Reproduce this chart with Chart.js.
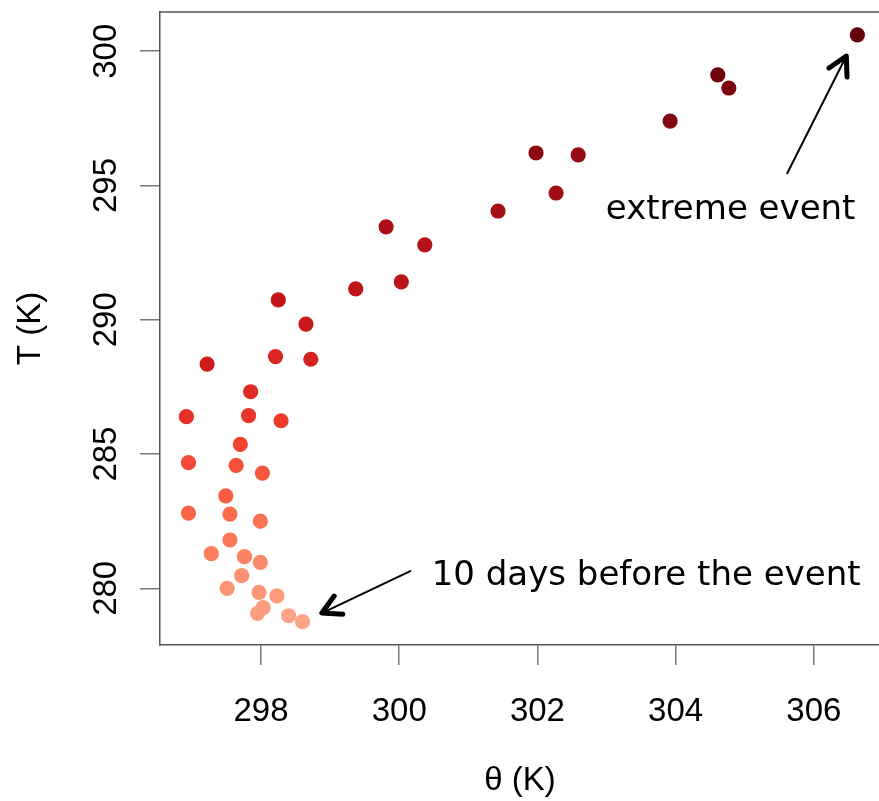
<!DOCTYPE html>
<html>
<head>
<meta charset="utf-8">
<script src="https://cdn.jsdelivr.net/npm/chart.js@4/dist/chart.umd.min.js"></script>
<style>
  html, body { margin: 0; padding: 0; background: #fff; }
  canvas { display: block; }
</style>
</head>
<body>
<canvas id="chart" width="879" height="801"></canvas>
<script>
// potential temperature (K), oldest first
const theta = [
  298.60, 298.40, 297.95, 298.03, 298.23, 297.97, 297.51, 297.72, 297.99, 297.76,
  297.28, 297.55, 297.99, 297.55, 296.95, 297.49, 298.02, 297.64, 296.95, 297.70,
  298.29, 297.82, 296.92, 297.85, 298.21, 298.72, 297.22, 298.65, 298.25, 299.37,
  300.03, 300.37, 299.81, 301.43, 302.27, 302.59, 301.98, 303.92, 304.77, 304.61,
  306.63
];
// temperature (K)
const temp = [
  278.76, 278.98, 279.07, 279.28, 279.72, 279.85, 280.00, 280.47, 280.97, 281.18,
  281.29, 281.80, 282.50, 282.76, 282.80, 283.44, 284.29, 284.58, 284.68, 285.36,
  286.24, 286.43, 286.39, 287.32, 288.63, 288.53, 288.35, 289.84, 290.74, 291.15,
  291.41, 292.79, 293.46, 294.05, 294.72, 296.14, 296.21, 297.40, 298.63, 299.12,
  300.61
];
const xTicks = [298, 300, 302, 304, 306];
const yTicks = [280, 285, 290, 295, 300];
const xTitle = "θ (K)";
const yTitle = "T (K)";
// annotations: [text, text x, text y, arrow tail x, tail y, tip x, tip y] in data units
const noteExtreme = ["extreme event", 302.99, 293.75, 305.61, 295.43, 306.47, 299.82];
const noteStart = ["10 days before the event", 300.47, 280.12, 300.16, 280.64, 298.88, 279.08];

const stops = ["#FCA588", "#FC9272", "#FB6A4A", "#EF3B2C", "#CB181D", "#A50F15", "#67000D"];
const hex = (h) => [1, 3, 5].map((i) => parseInt(h.slice(i, i + 2), 16));
const ramp = (t) => {
  const p = t * (stops.length - 1);
  const i = Math.min(Math.floor(p), stops.length - 2);
  const f = p - i;
  const a = hex(stops[i]), b = hex(stops[i + 1]);
  const c = a.map((v, k) => Math.round(v + (b[k] - v) * f));
  return `rgb(${c[0]},${c[1]},${c[2]})`;
};
const colors = theta.map((_, i) => ramp(i / (theta.length - 1)));
const points = theta.map((v, i) => ({ x: v, y: temp[i] }));

const drawArrow = (ctx, x0, y0, x1, y1) => {
  ctx.lineWidth = 2;
  ctx.beginPath();
  ctx.moveTo(x0, y0);
  ctx.lineTo(x1, y1);
  ctx.stroke();
  const ang = Math.atan2(y1 - y0, x1 - x0);
  const len = 21;
  ctx.lineWidth = 5;
  ctx.lineCap = "round";
  ctx.lineJoin = "round";
  ctx.beginPath();
  ctx.moveTo(x1 - len * Math.cos(ang - 0.5), y1 - len * Math.sin(ang - 0.5));
  ctx.lineTo(x1, y1);
  ctx.lineTo(x1 - len * Math.cos(ang + 0.5), y1 - len * Math.sin(ang + 0.5));
  ctx.stroke();
};

const rStyle = {
  id: "rStyle",
  afterDraw(chart) {
    const { ctx, chartArea, scales } = chart;
    const x = scales.x, y = scales.y;
    ctx.save();
    ctx.strokeStyle = "#555";
    ctx.lineWidth = 1.5;
    ctx.beginPath();
    ctx.moveTo(chartArea.left, chartArea.top);
    ctx.lineTo(chart.width, chartArea.top);
    ctx.stroke();

    ctx.fillStyle = "#000";
    ctx.font = '33px "Liberation Sans", Arial, sans-serif';
    ctx.textAlign = "center";
    ctx.textBaseline = "middle";
    xTicks.forEach((v) => ctx.fillText(String(v), x.getPixelForValue(v), 712));
    yTicks.forEach((v) => {
      ctx.save();
      ctx.translate(107, y.getPixelForValue(v));
      ctx.rotate(-Math.PI / 2);
      ctx.fillText(String(v), 0, 0);
      ctx.restore();
    });
    ctx.fillText(xTitle, 520, 781);
    ctx.save();
    ctx.translate(31, (chartArea.top + chartArea.bottom) / 2);
    ctx.rotate(-Math.PI / 2);
    ctx.fillText(yTitle, 0, 0);
    ctx.restore();

    ctx.font = '34px "DejaVu Sans", Verdana, sans-serif';
    ctx.textAlign = "left";
    ctx.textBaseline = "alphabetic";
    ctx.strokeStyle = "#000";
    [noteExtreme, noteStart].forEach((n) => {
      ctx.fillText(n[0], x.getPixelForValue(n[1]), y.getPixelForValue(n[2]));
      drawArrow(ctx,
        x.getPixelForValue(n[3]), y.getPixelForValue(n[4]),
        x.getPixelForValue(n[5]), y.getPixelForValue(n[6]));
    });
    ctx.restore();
  },
};

new Chart(document.getElementById("chart"), {
  type: "scatter",
  data: {
    datasets: [
      {
        data: points,
        pointBackgroundColor: colors,
        pointBorderWidth: 0,
        pointRadius: 7.6,
        pointHoverRadius: 7.6,
      },
    ],
  },
  options: {
    responsive: false,
    animation: false,
    layout: { autoPadding: false, padding: { top: 12, right: 0, left: 0, bottom: 0 } },
    plugins: { legend: { display: false }, tooltip: { enabled: false } },
    scales: {
      x: {
        type: "linear",
        min: 296.538,
        max: 306.943,
        afterBuildTicks: (s) => { s.ticks = xTicks.map((v) => ({ value: v })); },
        afterFit: (s) => { s.height = 156; },
        ticks: { display: false },
        grid: { drawOnChartArea: false, drawTicks: true, tickLength: 20, color: "#777", lineWidth: 1.5 },
        border: { display: true, color: "#555", width: 1.5 },
      },
      y: {
        type: "linear",
        min: 277.89,
        max: 301.46,
        afterBuildTicks: (s) => { s.ticks = yTicks.map((v) => ({ value: v })); },
        afterFit: (s) => { s.width = 160; },
        ticks: { display: false },
        grid: { drawOnChartArea: false, drawTicks: true, tickLength: 20, color: "#777", lineWidth: 1.5 },
        border: { display: true, color: "#555", width: 1.5 },
      },
    },
  },
  plugins: [rStyle],
});
</script>
</body>
</html>
